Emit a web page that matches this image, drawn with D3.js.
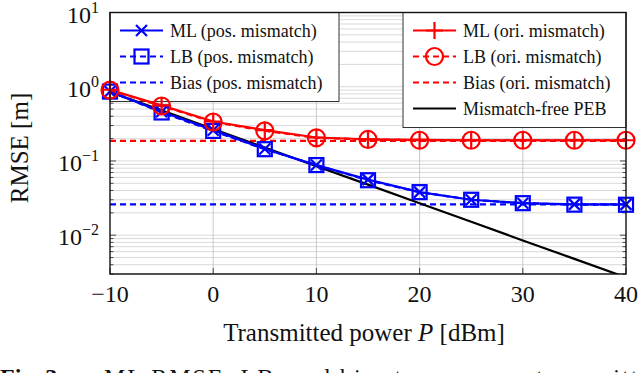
<!DOCTYPE html>
<html>
<head>
<meta charset="utf-8">
<script src="https://cdn.jsdelivr.net/npm/d3@7"></script>
<style>
  body { margin: 0; background: #fff; }
</style>
</head>
<body>
<svg id="chart" width="640" height="373"></svg>
<script>
// transmitted power (dBm)
const powers = [-10, -5, 0, 5, 10, 15, 20, 25, 30, 35, 40];
const mlPos = [0.86, 0.46, 0.26, 0.145, 0.088, 0.056, 0.038, 0.030, 0.027, 0.026, 0.026];
const lbPos = [0.86, 0.45, 0.254, 0.144, 0.088, 0.055, 0.038, 0.030, 0.027, 0.0258, 0.0257];
const mlOri = [0.91, 0.56, 0.34, 0.26, 0.207, 0.196, 0.192, 0.19, 0.19, 0.19, 0.19];
const lbOri = [0.90, 0.55, 0.335, 0.255, 0.205, 0.195, 0.19, 0.19, 0.19, 0.19, 0.19];
const peb = [0.85, 0.48, 0.27, 0.152, 0.085, 0.048, 0.027, 0.0152, 0.0085, 0.0048, 0.0027];
const biasPos = 0.026;
const biasOri = 0.186;
const xTicks = [-10, 0, 10, 20, 30, 40];
const yDecades = [-2, -1, 0, 1];

const FONT = "'Liberation Serif', 'Times New Roman', Tinos, 'DejaVu Serif', 'Noto Serif', serif";

const svg = d3.select('#chart').attr('font-family', FONT),
  plotLeft = 110, plotRight = 626, plotTop = 12.5, plotBottom = 274;

const x = d3.scaleLinear().domain([-10, 40]).range([plotLeft, plotRight]);
const y = d3.scaleLog().domain([0.003, 10]).range([plotBottom, plotTop]);

svg.append('clipPath').attr('id', 'plot-clip')
  .append('rect').attr('x', plotLeft).attr('y', plotTop)
  .attr('width', plotRight - plotLeft).attr('height', plotBottom - plotTop);

// grid
const minorVals = [];
[-3, -2, -1, 0].forEach(e => {
  for (let k = 1; k <= 9; k++) {
    const v = k * Math.pow(10, e);
    if (v >= 0.003 && v <= 10) minorVals.push({ v: v, major: k === 1 });
  }
});
minorVals.push({ v: 10, major: true });
const grid = svg.append('g');
grid.selectAll('line.h').data(minorVals).join('line').attr('class', 'h')
  .attr('x1', plotLeft).attr('x2', plotRight)
  .attr('y1', d => y(d.v)).attr('y2', d => y(d.v))
  .attr('stroke', '#cfcfcf').attr('stroke-width', 0.8);
grid.selectAll('line.v').data(xTicks.slice(1, -1)).join('line').attr('class', 'v')
  .attr('x1', d => x(d)).attr('x2', d => x(d))
  .attr('y1', plotTop).attr('y2', plotBottom)
  .attr('stroke', '#c4c4c4').attr('stroke-width', 0.9);

// ticks (inward, both sides)
const ticks = svg.append('g').attr('stroke', '#222').attr('stroke-width', 0.8);
minorVals.forEach(d => {
  const len = d.major ? 6 : 3.5;
  ticks.append('line').attr('x1', plotLeft).attr('x2', plotLeft + len).attr('y1', y(d.v)).attr('y2', y(d.v));
  ticks.append('line').attr('x1', plotRight).attr('x2', plotRight - len).attr('y1', y(d.v)).attr('y2', y(d.v));
});
xTicks.forEach(t => {
  ticks.append('line').attr('x1', x(t)).attr('x2', x(t)).attr('y1', plotBottom).attr('y2', plotBottom - 6);
  ticks.append('line').attr('x1', x(t)).attr('x2', x(t)).attr('y1', plotTop).attr('y2', plotTop + 6);
});

// tick labels
svg.append('g').selectAll('text').data(xTicks).join('text')
  .attr('x', d => x(d)).attr('y', 302)
  .attr('text-anchor', 'middle').attr('font-size', 24).attr('fill', '#111')
  .text(d => d < 0 ? '\u2212' + Math.abs(d) : d);

const yl = svg.append('g').selectAll('text').data(yDecades).join('text')
  .attr('x', 99).attr('y', d => y(Math.pow(10, d)) + 10)
  .attr('text-anchor', 'end').attr('font-size', 24).attr('fill', '#111');
yl.append('tspan').text('10');
yl.append('tspan').attr('font-size', 16).attr('dy', -10)
  .text(d => d < 0 ? '\u2212' + Math.abs(d) : d);

// axis titles
svg.append('text').attr('x', (plotLeft + plotRight) / 2 - 4).attr('y', 341)
  .attr('text-anchor', 'middle').attr('font-size', 25).attr('fill', '#111')
  .html('Transmitted power <tspan font-style="italic">P</tspan> [dBm]');
svg.append('text').attr('transform', 'translate(28,148) rotate(-90)')
  .attr('text-anchor', 'middle').attr('font-size', 25).attr('fill', '#111')
  .text('RMSE [m]');

// caption (only its top shows at the page edge)
const cap = svg.append('text').attr('x', 0).attr('y', 385).attr('font-size', 24).attr('fill', '#111');
cap.append('tspan').attr('font-weight', 'bold').text('Fig. 3.');
cap.append('tspan').attr('x', 104).attr('textLength', 560).attr('lengthAdjust', 'spacing')
  .text('ML RMSE, LB, and bias term versus transmitted');

// marker drawing
const drawMarker = (g, kind, color) => {
  if (kind === 'x') {
    g.append('path').attr('d', 'M-5.5,-5.5L5.5,5.5M-5.5,5.5L5.5,-5.5')
      .attr('stroke', color).attr('stroke-width', 2.2).attr('fill', 'none');
  } else if (kind === 'square') {
    g.append('rect').attr('x', -7).attr('y', -7).attr('width', 14).attr('height', 14)
      .attr('stroke', color).attr('stroke-width', 2.2).attr('fill', 'none');
  } else if (kind === 'plus') {
    g.append('path').attr('d', 'M-8.5,0L8.5,0M0,-8.5L0,8.5')
      .attr('stroke', color).attr('stroke-width', 2.2).attr('fill', 'none');
  } else if (kind === 'circle') {
    g.append('circle').attr('r', 8.5)
      .attr('stroke', color).attr('stroke-width', 2.2).attr('fill', 'none');
  }
};

// legends
const legendBox = (x0, x1, rows) => {
  const g = svg.append('g');
  g.append('rect').attr('x', x0).attr('y', plotTop)
    .attr('width', x1 - x0).attr('height', rows.length * 26 + 11)
    .attr('fill', '#fff').attr('stroke', '#333').attr('stroke-width', 1);
  rows.forEach((r, i) => {
    const cy = plotTop + 18 + i * 26;
    g.append('line').attr('x1', x0 + 10).attr('x2', x0 + 53)
      .attr('y1', cy).attr('y2', cy)
      .attr('stroke', r.color).attr('stroke-width', 2.2)
      .attr('stroke-dasharray', r.dash || null);
    if (r.marker) drawMarker(g.append('g').attr('transform', `translate(${x0 + 31.5},${cy})`), r.marker, r.color);
    g.append('text').attr('x', x0 + 60).attr('y', cy + 6)
      .attr('font-size', 18).attr('fill', '#111').text(r.label);
  });
};
legendBox(plotLeft, 339, [
  { label: 'ML (pos. mismatch)', color: '#0000ff', marker: 'x' },
  { label: 'LB (pos. mismatch)', color: '#0000ff', marker: 'square', dash: '6,4' },
  { label: 'Bias (pos. mismatch)', color: '#0000ff', dash: '6,4' }
]);
legendBox(403, plotRight, [
  { label: 'ML (ori. mismatch)', color: '#ff0000', marker: 'plus' },
  { label: 'LB (ori. mismatch)', color: '#ff0000', marker: 'circle', dash: '6,4' },
  { label: 'Bias (ori. mismatch)', color: '#ff0000', dash: '6,4' },
  { label: 'Mismatch-free PEB', color: '#000000' }
]);

// data
const plot = svg.append('g');
const clipped = plot.append('g').attr('clip-path', 'url(#plot-clip)');
const line = d3.line().x((d, i) => x(powers[i])).y(d => y(d));

const series = [
  { vals: peb, color: '#000' },
  { vals: lbPos, color: '#0000ff', dash: '6,4', marker: 'square' },
  { vals: mlPos, color: '#0000ff', marker: 'x' },
  { vals: lbOri, color: '#ff0000', dash: '6,4', marker: 'circle' },
  { vals: mlOri, color: '#ff0000', marker: 'plus' }
];

[[biasPos, '#0000ff'], [biasOri, '#ff0000']].forEach(([v, c]) => {
  clipped.append('line').attr('x1', plotLeft).attr('x2', plotRight)
    .attr('y1', y(v)).attr('y2', y(v))
    .attr('stroke', c).attr('stroke-width', 2.2).attr('stroke-dasharray', '6,4');
});

series.forEach(s => {
  clipped.append('path').attr('d', line(s.vals))
    .attr('fill', 'none').attr('stroke', s.color).attr('stroke-width', 2.2)
    .attr('stroke-dasharray', s.dash || null).attr('stroke-linejoin', 'round');
});
series.filter(s => s.marker).forEach(s => {
  s.vals.forEach((v, i) => {
    drawMarker(plot.append('g').attr('transform', `translate(${x(powers[i])},${y(v)})`), s.marker, s.color);
  });
});

// frame
svg.append('rect').attr('x', plotLeft).attr('y', plotTop)
  .attr('width', plotRight - plotLeft).attr('height', plotBottom - plotTop)
  .attr('fill', 'none').attr('stroke', '#111').attr('stroke-width', 1.4);
</script>
</body>
</html>
